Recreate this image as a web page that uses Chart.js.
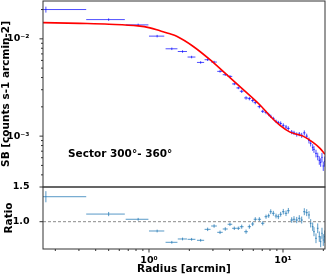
<!DOCTYPE html>
<html>
<head>
<meta charset="utf-8">
<script src="https://cdn.jsdelivr.net/npm/chart.js@4.4.1/dist/chart.umd.min.js"></script>
<style>
  html, body { margin: 0; padding: 0; background: #fff; }
  #wrap { position: relative; width: 327px; height: 277px; overflow: hidden; }
  #sbChart { position: absolute; left: 0; top: 0; }
  #ratioChart { position: absolute; left: 0; top: 172px; }
</style>
</head>
<body>
<div id="wrap">
  <canvas id="sbChart" width="327" height="188"></canvas>
  <canvas id="ratioChart" width="327" height="105"></canvas>
</div>
<script>
// bins (arcmin) and half widths
const radius = [0.17, 0.50, 0.83, 1.15, 1.48, 1.78, 2.08, 2.43, 2.74, 3.06,
  3.39, 3.71, 4.02, 4.33, 4.64, 4.92, 5.30, 5.61, 5.94, 6.21,
  6.66, 7.06, 7.47, 7.82, 8.10, 8.47, 8.87, 9.23, 9.61, 10.05,
  10.53, 10.96, 11.61, 12.08, 12.66, 13.23, 13.79, 14.42, 15.03, 15.63,
  16.09, 16.66, 17.03, 17.63, 18.16, 18.66, 19.11, 19.54, 19.98, 20.47];
const radiusErr = [0.17, 0.16, 0.16, 0.15, 0.15, 0.14, 0.14, 0.15, 0.14, 0.15,
  0.16, 0.16, 0.16, 0.16, 0.15, 0.16, 0.17, 0.16, 0.15, 0.17,
  0.20, 0.20, 0.19, 0.16, 0.16, 0.19, 0.20, 0.19, 0.20, 0.22,
  0.24, 0.26, 0.28, 0.26, 0.28, 0.28, 0.29, 0.30, 0.30, 0.26,
  0.24, 0.24, 0.25, 0.28, 0.26, 0.24, 0.22, 0.22, 0.22, 0.24];

// surface brightness (counts s-1 arcmin-2) and error in %
const sb = [0.0200, 0.01576, 0.01391, 0.01066, 0.00790, 0.00741, 0.00650, 0.00572, 0.00610, 0.00577,
  0.00463, 0.00428, 0.00411, 0.00344, 0.00313, 0.00289, 0.00247, 0.00243, 0.00232, 0.00221,
  0.00201, 0.00180, 0.00175, 0.00167, 0.00160, 0.00152, 0.00142, 0.00138, 0.00135, 0.00129,
  0.00124, 0.00120, 0.00110, 0.00108, 0.00104, 0.00105, 0.00102, 0.00108, 0.00100, 0.000904,
  0.000842, 0.000766, 0.000731, 0.000665, 0.000620, 0.000564, 0.000538, 0.000605, 0.000493, 0.000551];
const sbErrPct = [7, 3, 3, 3, 3, 3, 3, 3, 3, 3,
  3, 3, 3, 3, 3, 4, 4, 4, 4, 4,
  4, 4, 4, 4, 4, 4, 4, 4, 5, 5,
  5, 5, 5, 5, 5, 5, 6, 6, 6, 7,
  7, 8, 8, 9, 9, 10, 10, 11, 11, 12];

// model curve
const modelR = [0.162, 0.3055, 0.503, 0.828, 1.017, 1.208, 1.434, 1.609, 2.141, 2.852,
  3.801, 5.054, 6.737, 7.998, 9.497, 11.28, 14.10, 16.75, 18.89, 20.58];
const modelSB = [0.01468, 0.01441, 0.01414, 0.01359, 0.01296, 0.01208, 0.01125, 0.01061, 0.00834, 0.00610,
  0.00428, 0.00301, 0.00209, 0.00161, 0.00129, 0.00110, 0.00100, 0.000862, 0.000748, 0.000650];

// data / model
const ratio = [1.36, 1.11, 1.035, 0.866, 0.703, 0.751, 0.746, 0.732, 0.890, 0.938,
  0.847, 0.895, 0.963, 0.905, 0.905, 0.928, 0.856, 0.928, 0.967, 1.035,
  1.035, 0.977, 1.072, 1.086, 1.144, 1.121, 1.082, 1.072, 1.107, 1.144,
  1.121, 1.158, 1.024, 1.035, 1.024, 1.049, 1.024, 1.144, 1.130, 1.097,
  0.977, 0.928, 0.856, 0.761, 0.905, 0.784, 0.712, 0.833, 0.736, 0.784];
const ratioErr = [0.08, 0.03, 0.02, 0.02, 0.02, 0.02, 0.02, 0.02, 0.025, 0.025,
  0.025, 0.025, 0.025, 0.025, 0.025, 0.03, 0.03, 0.03, 0.03, 0.03,
  0.03, 0.03, 0.03, 0.03, 0.035, 0.035, 0.035, 0.035, 0.035, 0.04,
  0.04, 0.04, 0.04, 0.045, 0.045, 0.045, 0.05, 0.05, 0.05, 0.055,
  0.06, 0.06, 0.065, 0.07, 0.07, 0.075, 0.08, 0.08, 0.085, 0.09];

// axes
const xMin = 0.1618, xMax = 20.58;
const sbMin = 3.055e-4, sbMax = 0.02448;
const ratioMin = 0.6066, ratioMax = 1.5;
const xTicks = [0.2, 0.3, 0.4, 0.5, 0.6, 0.7, 0.8, 0.9, 1, 2, 3, 4, 5, 6, 7, 8, 9, 10, 20];
const xTickLabels = { 1: '10⁰', 10: '10¹' };
const sbTicks = [4e-4, 5e-4, 6e-4, 7e-4, 8e-4, 9e-4, 1e-3, 2e-3, 3e-3, 4e-3, 5e-3, 6e-3, 7e-3, 8e-3, 9e-3, 1e-2, 2e-2];
const sbTickLabels = { 0.001: '10⁻³', 0.01: '10⁻²' };
const ratioTicks = [1.0, 1.5];

const FONT = 'DejaVu Sans';
const bold = (size) => ({ family: FONT, size: size, weight: 'bold' });

// error bars drawn from the chart scales
const errorBars = {
  id: 'errorBars',
  beforeDatasetsDraw(chart) {
    const { ctx, chartArea: a, scales: { x, y } } = chart;
    ctx.save();
    ctx.beginPath();
    ctx.rect(a.left, a.top, a.right - a.left, a.bottom - a.top);
    ctx.clip();
    chart.data.datasets.forEach(ds => {
      if (!ds.xErr) return;
      ctx.strokeStyle = ds.borderColor;
      ctx.lineWidth = 1;
      ds.data.forEach((p, i) => {
        const px = x.getPixelForValue(p.x);
        const py = y.getPixelForValue(p.y);
        const lo = Math.max(p.x - ds.xErr[i], x.min * 0.5);
        ctx.beginPath();
        ctx.moveTo(x.getPixelForValue(lo), py);
        ctx.lineTo(x.getPixelForValue(p.x + ds.xErr[i]), py);
        ctx.moveTo(px, y.getPixelForValue(p.y - ds.yErr[i]));
        ctx.lineTo(px, y.getPixelForValue(p.y + ds.yErr[i]));
        ctx.stroke();
      });
    });
    ctx.restore();
  }
};

// axes box, outward tick marks and the sector note
const frame = {
  id: 'frame',
  afterDraw(chart, args, opts) {
    const { ctx, chartArea: a, scales: { x, y } } = chart;
    ctx.save();
    ctx.strokeStyle = '#333';
    ctx.lineWidth = 1;
    ctx.strokeRect(a.left, a.top, a.right - a.left, a.bottom - a.top);
    (opts.yTicks || []).forEach(v => {
      const py = y.getPixelForValue(v);
      const len = opts.yMajor.includes(v) ? 3.5 : 2;
      ctx.beginPath();
      ctx.moveTo(a.left - len, py);
      ctx.lineTo(a.left, py);
      ctx.stroke();
    });
    (opts.xTicks || []).forEach(v => {
      const px = x.getPixelForValue(v);
      const len = opts.xMajor.includes(v) ? 3.5 : 2;
      ctx.beginPath();
      ctx.moveTo(px, a.bottom);
      ctx.lineTo(px, a.bottom + len);
      ctx.stroke();
    });
    if (opts.note) {
      ctx.fillStyle = '#000';
      ctx.font = 'bold 10.5px "' + FONT + '"';
      ctx.textBaseline = 'middle';
      ctx.fillText(opts.note, 68, 154.5);
    }
    ctx.restore();
  }
};

new Chart(document.getElementById('sbChart'), {
  type: 'scatter',
  data: {
    datasets: [
      {
        type: 'line',
        data: modelR.map((r, i) => ({ x: r, y: modelSB[i] })),
        borderColor: '#ff0000',
        borderWidth: 1.6,
        pointRadius: 0,
        cubicInterpolationMode: 'monotone',
        fill: false,
        order: 0
      },
      {
        data: radius.map((r, i) => ({ x: r, y: sb[i] })),
        xErr: radiusErr,
        yErr: sb.map((v, i) => v * sbErrPct[i] / 100),
        borderColor: 'rgba(0,0,255,0.7)',
        pointRadius: 0,
        order: 1
      }
    ]
  },
  options: {
    responsive: false,
    animation: false,
    layout: { padding: { left: 0, right: 2, top: 1, bottom: 1 } },
    plugins: {
      legend: { display: false },
      tooltip: { enabled: false },
      frame: { yTicks: sbTicks, yMajor: [1e-3, 1e-2], note: 'Sector 300°- 360°' }
    },
    scales: {
      x: { type: 'logarithmic', min: xMin, max: xMax, display: false },
      y: {
        type: 'logarithmic', min: sbMin, max: sbMax,
        afterBuildTicks: s => { s.ticks = sbTicks.map(v => ({ value: v })); },
        afterFit: s => { s.width = 43; s.paddingTop = 0; s.paddingBottom = 0; },
        grid: { display: false },
        border: { display: false },
        ticks: { autoSkip: false, padding: 5.5, color: '#000', font: bold(9.5), callback: v => sbTickLabels[v] || '' },
        title: { display: true, text: 'SB [counts s-1 arcmin-2]', color: '#000', font: bold(10.5), padding: 0 }
      }
    }
  },
  plugins: [errorBars, frame]
});

new Chart(document.getElementById('ratioChart'), {
  type: 'scatter',
  data: {
    datasets: [
      {
        type: 'line',
        data: [{ x: xMin, y: 1 }, { x: xMax, y: 1 }],
        borderColor: '#8a8a8a',
        borderWidth: 1,
        borderDash: [3, 2],
        pointRadius: 0,
        fill: false,
        order: 0
      },
      {
        data: radius.map((r, i) => ({ x: r, y: ratio[i] })),
        xErr: radiusErr,
        yErr: ratioErr,
        borderColor: 'rgba(31,119,180,0.75)',
        pointRadius: 0,
        order: 1
      }
    ]
  },
  options: {
    responsive: false,
    animation: false,
    layout: { padding: { left: 0, right: 2, top: 15, bottom: 0 } },
    plugins: {
      legend: { display: false },
      tooltip: { enabled: false },
      frame: { yTicks: ratioTicks, yMajor: ratioTicks, xTicks: xTicks, xMajor: [1, 10] }
    },
    scales: {
      x: {
        type: 'logarithmic', min: xMin, max: xMax,
        afterBuildTicks: s => { s.ticks = xTicks.map(v => ({ value: v })); },
        afterFit: s => { s.height = 28; s.paddingLeft = 0; s.paddingRight = 0; },
        grid: { display: false },
        border: { display: false },
        ticks: { autoSkip: false, maxRotation: 0, padding: -2.2, color: '#000', font: bold(9.5), callback: v => xTickLabels[v] || '' },
        title: { display: true, text: 'Radius [arcmin]', color: '#000', font: bold(10.5), padding: { top: 0, bottom: 1 } }
      },
      y: {
        min: ratioMin, max: ratioMax,
        afterBuildTicks: s => { s.ticks = ratioTicks.map(v => ({ value: v })); },
        afterFit: s => { s.width = 43; s.paddingTop = 0; s.paddingBottom = 0; },
        grid: { display: false },
        border: { display: false },
        ticks: { autoSkip: false, padding: 5.5, color: '#000', font: bold(9.5), callback: v => v.toFixed(1) },
        title: { display: true, text: 'Ratio', color: '#000', font: bold(10.5), padding: { top: 3, bottom: 0 } }
      }
    }
  },
  plugins: [errorBars, frame]
});
</script>
</body>
</html>
